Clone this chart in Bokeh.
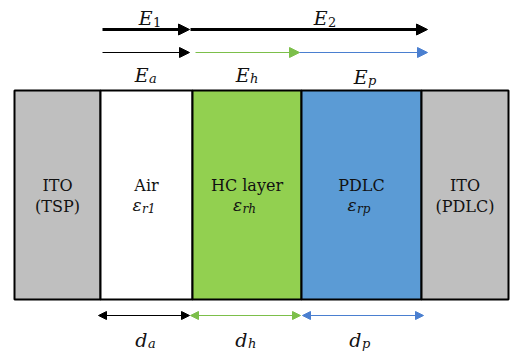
from bokeh.plotting import figure
from bokeh.models import Range1d, Arrow, NormalHead
from bokeh.core.properties import value
from bokeh.embed import file_html
from bokeh.resources import INLINE

# ---- data ----
layer_names_1 = ["ITO", "Air", "HC layer", "PDLC", "ITO"]
layer_names_2 = ["(TSP)", "", "", "", "(PDLC)"]
layer_eps_sub = ["", "r1", "rh", "rp", ""]
layer_widths = [86, 92, 109, 120, 87]
layer_colors = ["#BFBFBF", "#FFFFFF", "#92D050", "#5B9BD5", "#BFBFBF"]
dim_labels = ["a", "h", "p"]
field_top = ["1", "2"]
field_sub = ["a", "h", "p"]

X0 = 14
TOP, BOT = 90, 299

edges = [X0]
for w in layer_widths:
    edges.append(edges[-1] + w)
lefts = edges[:-1]
rights = edges[1:]
centers = [(l + r) / 2 for l, r in zip(lefts, rights)]

p = figure(width=513, height=356, output_backend="svg", toolbar_location=None,
           x_range=Range1d(0, 513), y_range=Range1d(356, 0), min_border=0)
p.axis.visible = False
p.grid.visible = False
p.outline_line_color = None
p.background_fill_color = "white"

p.quad(left=lefts, right=rights, top=[TOP] * 5, bottom=[BOT] * 5,
       fill_color=layer_colors, line_color="black", line_width=2)

serif = value("DejaVu Serif")
p.text(x=centers, y=[185] * 5, text=layer_names_1, text_font=serif,
       text_font_size="16px", text_align="center", text_baseline="middle", text_color="#111111")
p.text(x=centers, y=[206] * 5, text=layer_names_2, text_font=serif,
       text_font_size="16px", text_align="center", text_baseline="middle", text_color="#111111")


def math_label(xc, y, base, sub, base_size=19, sub_size=13, color="#111111"):
    # xc is the boundary between base glyph and subscript
    p.text(x=[xc], y=[y], text=[base], text_font=serif, text_font_style="italic",
           text_font_size=f"{base_size}px", text_align="right", text_baseline="middle", text_color=color)
    p.text(x=[xc + 0.5], y=[y + 4], text=[sub], text_font=serif,
           text_font_style="normal" if sub.isdigit() else "italic",
           text_font_size=f"{sub_size}px", text_align="left", text_baseline="middle", text_color=color)


# epsilon labels inside layers
for c, s in zip(centers, layer_eps_sub):
    if s:
        p.text(x=[c - 5], y=[204], text=["ε"], text_font=serif, text_font_style="italic",
               text_font_size="17px", text_align="right", text_baseline="middle", text_color="#111111")
        p.text(x=[c - 4.5], y=[208], text=[s], text_font=serif, text_font_style="italic",
               text_font_size="12px", text_align="left", text_baseline="middle", text_color="#111111")

# top field labels
math_label(152, 17, "E", field_top[0])
math_label(327, 17, "E", field_top[1])
math_label(148, 74, "E", field_sub[0])
math_label(249, 74, "E", field_sub[1])
math_label(367, 76, "E", field_sub[2])

# thickness labels
math_label(147, 339, "d", dim_labels[0])
math_label(247, 339, "d", dim_labels[1])
math_label(361, 339, "d", dim_labels[2])

black = "#000000"
green = "#7CBF4A"
blue = "#4A7FD0"

# E1, E2 arrows
p.add_layout(Arrow(x_start=102, y_start=29, x_end=edges[2] - 3, y_end=29, line_width=3, line_color=black,
                   end=NormalHead(size=11, fill_color=black, line_color=black)))
p.add_layout(Arrow(x_start=edges[2] - 2, y_start=29, x_end=427, y_end=29, line_width=3, line_color=black,
                   end=NormalHead(size=11, fill_color=black, line_color=black)))
# Ea, Eh, Ep arrows
p.add_layout(Arrow(x_start=102, y_start=52, x_end=edges[2] - 3, y_end=52, line_width=1.2, line_color=black,
                   end=NormalHead(size=10, fill_color=black, line_color=black)))
p.add_layout(Arrow(x_start=edges[2] + 3, y_start=52, x_end=edges[3] - 2, y_end=52, line_width=1.2, line_color=green,
                   end=NormalHead(size=10, fill_color=green, line_color=green)))
p.add_layout(Arrow(x_start=edges[3] - 2, y_start=52, x_end=427, y_end=52, line_width=1.2, line_color=blue,
                   end=NormalHead(size=10, fill_color=blue, line_color=blue)))

# thickness arrows
for (xs, xe, col) in [(98, 189, black), (190, 300, green), (302, 423, blue)]:
    p.add_layout(Arrow(x_start=xs, y_start=315, x_end=xe, y_end=315, line_width=1.2, line_color=col,
                       start=NormalHead(size=8, fill_color=col, line_color=col),
                       end=NormalHead(size=8, fill_color=col, line_color=col)))

open("out.html", "w").write(file_html(p, INLINE))
